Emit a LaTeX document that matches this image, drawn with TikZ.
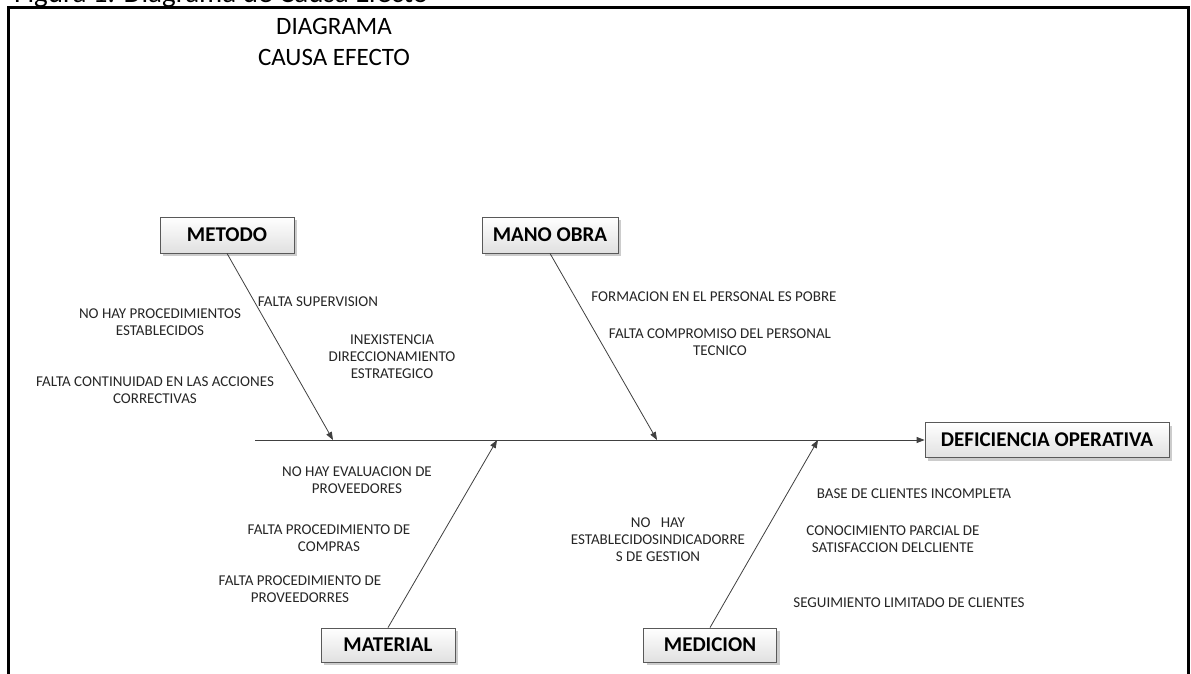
\documentclass[tikz,border=0pt]{standalone}
\usepackage{fontspec}
\setmainfont{Carlito}
\usetikzlibrary{arrows.meta,shadows}

\begin{document}
\begin{tikzpicture}[x=1pt,y=-1pt,
  cat/.style={shape=rectangle,draw=black!65,line width=0.8pt,top color=white,bottom color=black!12,
    drop shadow={shadow xshift=3pt,shadow yshift=-3pt,opacity=0.2,fill=black},
    font=\fontsize{21}{24}\selectfont\bfseries,minimum width=134pt,minimum height=36pt,inner sep=0pt},
  bone/.style={draw=black!75,line width=0.8pt,-{Triangle[length=8pt,width=6pt]}},
  cause/.style={align=center,font=\fontsize{15}{17}\selectfont,text=black!85,inner sep=0pt}
]
  \useasboundingbox (0,0) rectangle (1191,674);
  \clip (0,0) rectangle (1191,674);

  \node[anchor=base west,inner sep=0pt,font=\fontsize{29}{33}\selectfont] (caption) at (14,3) {Figura 1. Diagrama de Causa Efecto};
  \draw[line width=3pt,fill=white] (8.5,690) -- (8.5,8) -- (1188,8) -- (1188,690);

  \node[align=center,font=\fontsize{25}{31.5}\selectfont] (title) at (334,42) {DIAGRAMA\\CAUSA EFECTO};

  % head and spine
  \node[cat,minimum width=244pt,minimum height=35pt] (defic) at (1047,440) {DEFICIENCIA OPERATIVA};
  \coordinate (tail) at (255,440);
  \draw[bone] (tail) -- (defic.west);

  % categories
  \node[cat] (metodo)   at (227,235) {METODO};
  \node[cat,minimum width=136pt] (manoObra) at (550,235) {MANO OBRA};
  \node[cat,minimum height=34pt] (material) at (388,645) {MATERIAL};
  \node[cat,minimum width=133pt,minimum height=34pt] (medicion) at (710,645) {MEDICION};

  \coordinate (tipMetodo)   at (333,440);
  \coordinate (tipManoObra) at (657,440);
  \coordinate (tipMaterial) at (497,440);
  \coordinate (tipMedicion) at (818,440);

  \draw[bone] (metodo.south) -- (tipMetodo);
  \draw[bone] (manoObra.south) -- (tipManoObra);
  \draw[bone] (material.north) -- (tipMaterial);
  \draw[bone] (medicion.north) -- (tipMedicion);

  % causes
  \node[cause] (noProc)      at (160,322) {NO HAY PROCEDIMIENTOS\\ESTABLECIDOS};
  \node[cause] (faltaSup)    at (318,302) {FALTA SUPERVISION};
  \node[cause] (inexist)     at (392,357) {INEXISTENCIA\\DIRECCIONAMIENTO\\ESTRATEGICO};
  \node[cause] (continuidad) at (155,390) {FALTA CONTINUIDAD EN LAS ACCIONES\\CORRECTIVAS};

  \node[cause] (formacion)   at (714,297) {FORMACION EN EL PERSONAL ES POBRE};
  \node[cause] (compromiso)  at (720,342) {FALTA COMPROMISO DEL PERSONAL\\TECNICO};

  \node[cause] (evaluacion)  at (357,480) {NO HAY EVALUACION DE\\PROVEEDORES};
  \node[cause] (compras)     at (329,538) {FALTA PROCEDIMIENTO DE\\COMPRAS};
  \node[cause] (proveed)     at (300,589) {FALTA PROCEDIMIENTO DE\\PROVEEDORRES};

  \node[cause] (indicad)     at (658,540) {NO\ \ \ HAY\\ESTABLECIDOSINDICADORRE\\S DE GESTION};
  \node[cause] (baseCli)     at (914,494) {BASE DE CLIENTES INCOMPLETA};
  \node[cause] (conocim)     at (893,539) {CONOCIMIENTO PARCIAL DE\\SATISFACCION DELCLIENTE};
  \node[cause] (seguim)      at (909,603) {SEGUIMIENTO LIMITADO DE CLIENTES};
\end{tikzpicture}
\end{document}
